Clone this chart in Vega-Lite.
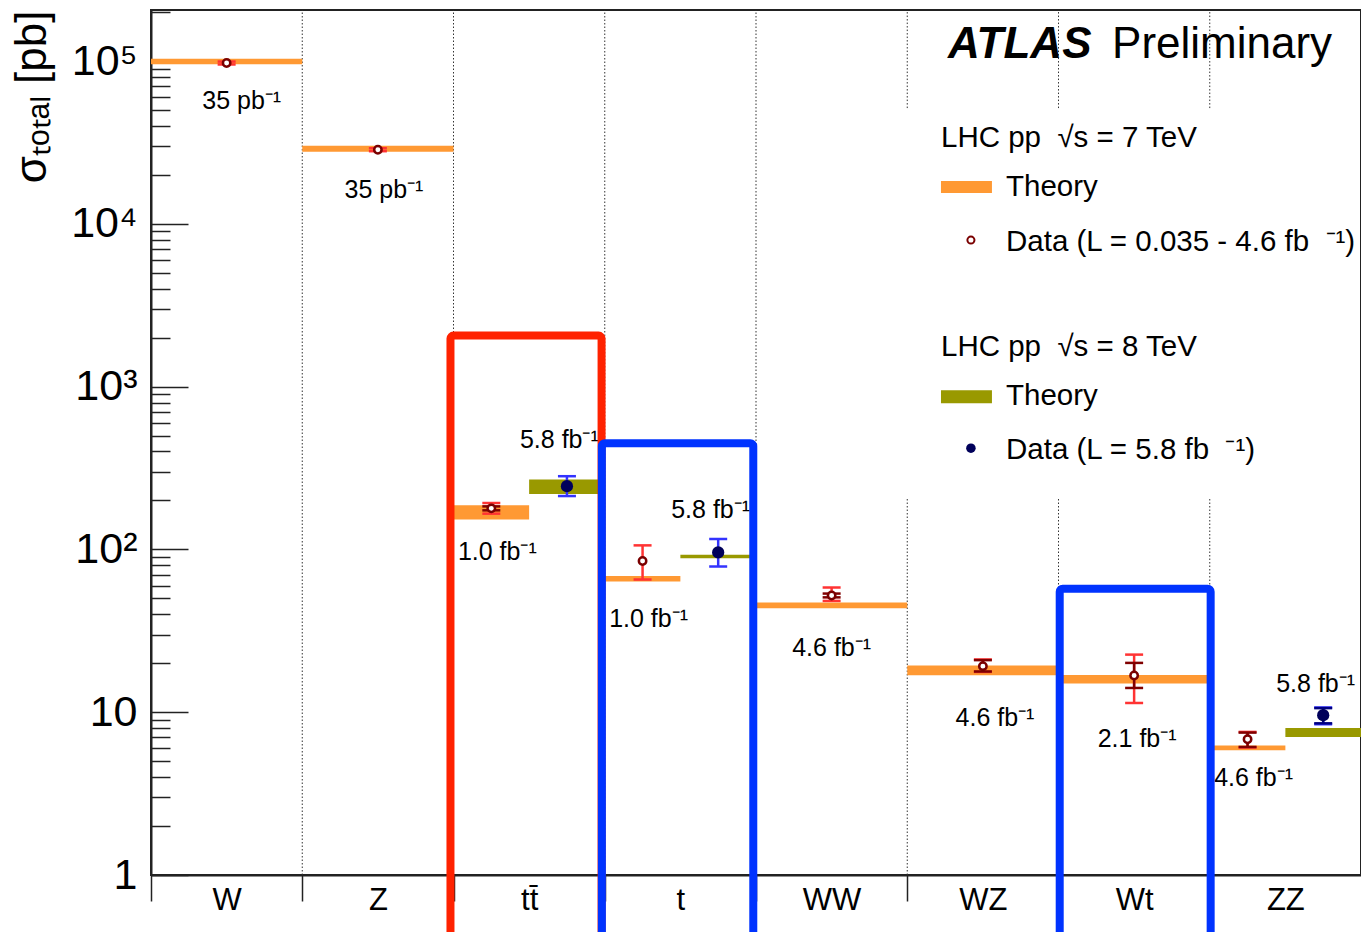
{
  "$schema": "https://vega.github.io/schema/vega-lite/v6.json",
  "width": 1210,
  "height": 865,
  "autosize": {"type": "none"},
  "padding": {"left": 151, "top": 10, "right": 0, "bottom": 57},
  "background": "white",
  "config": {
    "view": {"stroke": "#222", "strokeWidth": 2},
    "font": "Liberation Sans",
    "axis": {"domainColor": "#222", "tickColor": "#222", "labelColor": "#000", "titleColor": "#000", "labelFont": "Liberation Sans", "titleFont": "Liberation Sans"}
  },
  "datasets": {
    "grid": [
      {"b": 1, "ya": 1, "yb": 206400},
      {"b": 2, "ya": 1, "yb": 206400},
      {"b": 3, "ya": 1, "yb": 206400},
      {"b": 4, "ya": 1, "yb": 206400},
      {"b": 5, "ya": 51540, "yb": 206400},
      {"b": 5, "ya": 1, "yb": 209.6},
      {"b": 6, "ya": 51540, "yb": 206400},
      {"b": 6, "ya": 1, "yb": 209.6},
      {"b": 7, "ya": 51540, "yb": 206400},
      {"b": 7, "ya": 1, "yb": 209.6}
    ],
    "theory": [
      {"proc": "W", "e": "7", "x0": 0, "x1": 1, "lo": 95700, "hi": 103600},
      {"proc": "Z", "e": "7", "x0": 1, "x1": 2, "lo": 27800, "hi": 30240},
      {"proc": "ttbar", "e": "7", "x0": 2, "x1": 2.5, "lo": 153, "hi": 187},
      {"proc": "ttbar", "e": "8", "x0": 2.5, "x1": 3, "lo": 219, "hi": 269},
      {"proc": "t", "e": "7", "x0": 3, "x1": 3.5, "lo": 63.6, "hi": 68.8},
      {"proc": "t", "e": "8", "x0": 3.5, "x1": 4, "lo": 88.4, "hi": 92.7},
      {"proc": "WW", "e": "7", "x0": 4, "x1": 5, "lo": 43.6, "hi": 47.2},
      {"proc": "WZ", "e": "7", "x0": 5, "x1": 6, "lo": 16.9, "hi": 19.4},
      {"proc": "Wt", "e": "7", "x0": 6, "x1": 7, "lo": 15.0, "hi": 16.95},
      {"proc": "ZZ", "e": "7", "x0": 7, "x1": 7.5, "lo": 5.84, "hi": 6.24},
      {"proc": "ZZ", "e": "8", "x0": 7.5, "x1": 8, "lo": 7.05, "hi": 8.01}
    ],
    "meas": [
      {"proc": "W", "e": "7", "x": 0.5, "v": 97500, "lo": 95500, "hi": 99500},
      {"proc": "Z", "e": "7", "x": 1.5, "v": 28600, "lo": 28000, "hi": 29200},
      {"proc": "ttbar", "e": "7", "x": 2.25, "v": 179, "lo": 166, "hi": 193, "slo": 174, "shi": 184},
      {"proc": "ttbar", "e": "8", "x": 2.75, "v": 245, "lo": 213, "hi": 282},
      {"proc": "t", "e": "7", "x": 3.25, "v": 85, "lo": 65.4, "hi": 106},
      {"proc": "t", "e": "8", "x": 3.75, "v": 95.9, "lo": 78.6, "hi": 116},
      {"proc": "WW", "e": "7", "x": 4.5, "v": 52.2, "lo": 48.3, "hi": 58.4, "slo": 50.8, "shi": 53.6},
      {"proc": "WZ", "e": "7", "x": 5.5, "v": 19.2, "lo": 17.7, "hi": 21.1, "slo": 17.8, "shi": 20.9},
      {"proc": "Wt", "e": "7", "x": 6.5, "v": 16.8, "lo": 11.4, "hi": 22.6, "slo": 14.1, "shi": 20.1},
      {"proc": "ZZ", "e": "7", "x": 7.25, "v": 6.82, "lo": 6.07, "hi": 7.57, "slo": 6.12, "shi": 7.5},
      {"proc": "ZZ", "e": "8", "x": 7.75, "v": 9.59, "lo": 8.44, "hi": 10.7, "slo": 8.55, "shi": 10.6}
    ],
    "lumi": [
      {"x": 0.6, "y": 56930, "t": "35 pb⁻¹"},
      {"x": 1.54, "y": 16150, "t": "35 pb⁻¹"},
      {"x": 2.29, "y": 96.3, "t": "1.0 fb⁻¹"},
      {"x": 2.70, "y": 469.7, "t": "5.8 fb⁻¹"},
      {"x": 3.29, "y": 37.3, "t": "1.0 fb⁻¹"},
      {"x": 3.70, "y": 174.4, "t": "5.8 fb⁻¹"},
      {"x": 4.50, "y": 24.7, "t": "4.6 fb⁻¹"},
      {"x": 5.58, "y": 9.19, "t": "4.6 fb⁻¹"},
      {"x": 6.52, "y": 6.82, "t": "2.1 fb⁻¹"},
      {"x": 7.29, "y": 3.93, "t": "4.6 fb⁻¹"},
      {"x": 7.70, "y": 14.86, "t": "5.8 fb⁻¹"}
    ],
    "boxes": [
      {"box": "tt", "x0": 1.98, "x1": 2.979, "lo": 0.3, "hi": 2061},
      {"box": "t", "x0": 2.981, "x1": 3.982, "lo": 0.3, "hi": 450},
      {"box": "Wt", "x0": 6.008, "x1": 7.006, "lo": 0.3, "hi": 57.4}
    ],
    "legtext": [
      {"x": 5.223, "y": 33730, "t": "LHC pp\u00a0\u00a0√s = 7 TeV"},
      {"x": 5.653, "y": 16860, "t": "Theory"},
      {"x": 5.653, "y": 7742, "t": "Data (L = 0.035 - 4.6 fb\u00a0\u00a0⁻¹)"},
      {"x": 5.223, "y": 1751, "t": "LHC pp\u00a0\u00a0√s = 8 TeV"},
      {"x": 5.653, "y": 875, "t": "Theory"},
      {"x": 5.653, "y": 407.5, "t": "Data (L = 5.8 fb\u00a0\u00a0⁻¹)"}
    ],
    "legswatch": [
      {"e": "7", "x0": 5.223, "x1": 5.56, "lo": 15490, "hi": 18350},
      {"e": "8", "x0": 5.223, "x1": 5.56, "lo": 793, "hi": 953}
    ],
    "legpt": [
      {"e": "7", "x": 5.421, "y": 7962},
      {"e": "8", "x": 5.421, "y": 419.4}
    ]
  },
  "resolve": {"axis": {"x": "independent", "y": "independent"}},
  "layer": [
    {
      "data": {"name": "grid"},
      "mark": {"type": "rule", "strokeDash": [1.5, 2], "color": "#333", "strokeWidth": 1},
      "encoding": {
        "x": {"field": "b", "type": "quantitative", "scale": {"domain": [0, 8], "nice": false, "zero": false},
          "axis": {"orient": "bottom", "values": [0, 1, 2, 3, 4, 5, 6, 7], "labels": false, "tickSize": 26, "tickWidth": 1.5, "grid": false, "domain": true, "domainWidth": 2, "title": null}},
        "y": {"field": "ya", "type": "quantitative", "scale": {"type": "log", "domain": [1, 206400], "nice": false},
          "axis": {"orient": "left", "values": [1, 10, 100, 1000, 10000, 100000], "labels": false, "tickSize": -37, "tickWidth": 1.5, "grid": false, "domain": true, "domainWidth": 2, "title": null}},
        "y2": {"field": "yb"}
      }
    },
    {
      "data": {"name": "theory"},
      "mark": {"type": "rect"},
      "encoding": {
        "x": {"field": "x0", "type": "quantitative",
          "axis": {"orient": "bottom", "values": [0.5, 1.5, 2.5, 3.5, 4.5, 5.5, 6.5, 7.5], "labelExpr": "['W','Z','tt̄','t','WW','WZ','Wt','ZZ'][floor(datum.value)]", "ticks": false, "domain": false, "grid": false, "labelFontSize": 31, "labelPadding": 10, "labelFlush": false, "labelOverlap": false, "labelBound": false, "title": null}},
        "x2": {"field": "x1"},
        "y": {"field": "lo", "type": "quantitative",
          "axis": {"orient": "left", "values": [2,3,4,5,6,7,8,9,20,30,40,50,60,70,80,90,200,300,400,500,600,700,800,900,2000,3000,4000,5000,6000,7000,8000,9000,20000,30000,40000,50000,60000,70000,80000,90000,200000], "labels": false, "tickSize": -19, "tickWidth": 1.5, "domain": false, "grid": false, "title": null}},
        "y2": {"field": "hi"},
        "color": {"field": "e", "type": "nominal", "scale": {"domain": ["7", "8"], "range": ["#ff9933", "#999900"]}, "legend": null}
      }
    },
    {
      "data": {"name": "meas"},
      "mark": {"type": "rule", "strokeWidth": 2.5, "opacity": 1},
      "encoding": {
        "x": {"field": "x", "type": "quantitative", "axis": null},
        "y": {"field": "lo", "type": "quantitative",
          "axis": {"orient": "left", "values": [1, 10, 100, 1000, 10000, 100000], "labelExpr": "datum.value == 1 ? '1' : datum.value == 10 ? '10' : datum.value == 100 ? '10²' : datum.value == 1000 ? '10³' : datum.value == 10000 ? '10⁴' : '10⁵'", "ticks": false, "tickSize": 0, "domain": false, "grid": false, "labelFontSize": 43, "labelPadding": 14, "labelOverlap": false, "labelFlush": false, "labelBound": false, "title": "σₜₒₜₐₗ [pb]", "titleFontSize": 44, "titleFontWeight": "normal", "titleAnchor": "end", "titlePadding": 16}},
        "y2": {"field": "hi"},
        "color": {"condition": {"test": "datum.e == '8'", "value": "#3333ff"}, "value": "#ff3333"}
      }
    },
    {
      "data": {"name": "meas"},
      "transform": [{"fold": ["lo", "hi"], "as": ["k", "cap"]}],
      "mark": {"type": "tick", "orient": "horizontal", "size": 18, "thickness": 2.5, "opacity": 1},
      "encoding": {
        "x": {"field": "x", "type": "quantitative", "axis": null},
        "y": {"field": "cap", "type": "quantitative", "axis": null},
        "color": {"condition": {"test": "datum.e == '8'", "value": "#3333ff"}, "value": "#ff3333"}
      }
    },
    {
      "data": {"name": "meas"},
      "mark": {"type": "rule", "strokeWidth": 2.5, "opacity": 1},
      "encoding": {
        "x": {"field": "x", "type": "quantitative", "axis": null},
        "y": {"field": "slo", "type": "quantitative", "axis": null},
        "y2": {"field": "shi"},
        "color": {"condition": {"test": "datum.e == '8'", "value": "#000080"}, "value": "#800000"}
      }
    },
    {
      "data": {"name": "meas"},
      "transform": [{"filter": "isValid(datum.slo)"}, {"fold": ["slo", "shi"], "as": ["k", "cap"]}],
      "mark": {"type": "tick", "orient": "horizontal", "size": 18, "thickness": 2.5, "opacity": 1},
      "encoding": {
        "x": {"field": "x", "type": "quantitative", "axis": null},
        "y": {"field": "cap", "type": "quantitative", "axis": null},
        "color": {"condition": {"test": "datum.e == '8'", "value": "#000080"}, "value": "#800000"}
      }
    },
    {
      "data": {"name": "meas"},
      "transform": [{"filter": "datum.e == '7'"}],
      "mark": {"type": "point", "shape": "circle", "filled": false, "fill": "white", "stroke": "#7a0000", "strokeWidth": 2.5, "size": 55, "opacity": 1},
      "encoding": {
        "x": {"field": "x", "type": "quantitative", "axis": null},
        "y": {"field": "v", "type": "quantitative", "axis": null}
      }
    },
    {
      "data": {"name": "meas"},
      "transform": [{"filter": "datum.e == '8'"}],
      "mark": {"type": "point", "shape": "circle", "filled": true, "color": "#00005a", "size": 150, "opacity": 1},
      "encoding": {
        "x": {"field": "x", "type": "quantitative", "axis": null},
        "y": {"field": "v", "type": "quantitative", "axis": null}
      }
    },
    {
      "data": {"name": "lumi"},
      "mark": {"type": "text", "fontSize": 25, "align": "center", "baseline": "middle", "color": "#000", "font": "Liberation Sans"},
      "encoding": {
        "x": {"field": "x", "type": "quantitative", "axis": null},
        "y": {"field": "y", "type": "quantitative", "axis": null},
        "text": {"field": "t"}
      }
    },
    {
      "data": {"name": "legswatch"},
      "mark": {"type": "rect"},
      "encoding": {
        "x": {"field": "x0", "type": "quantitative", "axis": null},
        "x2": {"field": "x1"},
        "y": {"field": "lo", "type": "quantitative", "axis": null},
        "y2": {"field": "hi"},
        "color": {"field": "e", "type": "nominal", "legend": null}
      }
    },
    {
      "data": {"name": "legpt"},
      "transform": [{"filter": "datum.e == '7'"}],
      "mark": {"type": "point", "shape": "circle", "filled": false, "fill": "white", "stroke": "#7a0000", "strokeWidth": 2, "size": 50, "opacity": 1},
      "encoding": {
        "x": {"field": "x", "type": "quantitative", "axis": null},
        "y": {"field": "y", "type": "quantitative", "axis": null}
      }
    },
    {
      "data": {"name": "legpt"},
      "transform": [{"filter": "datum.e == '8'"}],
      "mark": {"type": "point", "shape": "circle", "filled": true, "color": "#00005a", "size": 90, "opacity": 1},
      "encoding": {
        "x": {"field": "x", "type": "quantitative", "axis": null},
        "y": {"field": "y", "type": "quantitative", "axis": null}
      }
    },
    {
      "data": {"name": "legtext"},
      "mark": {"type": "text", "fontSize": 29.5, "align": "left", "baseline": "middle", "color": "#000", "font": "Liberation Sans"},
      "encoding": {
        "x": {"field": "x", "type": "quantitative", "axis": null},
        "y": {"field": "y", "type": "quantitative", "axis": null},
        "text": {"field": "t"}
      }
    },
    {
      "data": {"values": [{"x": 5.27, "y": 125800, "t": "ATLAS"}]},
      "mark": {"type": "text", "fontSize": 44, "fontWeight": "bold", "fontStyle": "italic", "align": "left", "baseline": "middle", "color": "#000", "font": "Liberation Sans"},
      "encoding": {
        "x": {"field": "x", "type": "quantitative", "axis": null},
        "y": {"field": "y", "type": "quantitative", "axis": null},
        "text": {"field": "t"}
      }
    },
    {
      "data": {"values": [{"x": 6.354, "y": 125800, "t": "Preliminary"}]},
      "mark": {"type": "text", "fontSize": 44, "align": "left", "baseline": "middle", "color": "#000", "font": "Liberation Sans"},
      "encoding": {
        "x": {"field": "x", "type": "quantitative", "axis": null},
        "y": {"field": "y", "type": "quantitative", "axis": null},
        "text": {"field": "t"}
      }
    },
    {
      "data": {"name": "boxes"},
      "mark": {"type": "rect", "filled": false, "fill": null, "strokeWidth": 8, "cornerRadius": 3, "clip": false, "opacity": 1},
      "encoding": {
        "x": {"field": "x0", "type": "quantitative", "axis": null},
        "x2": {"field": "x1"},
        "y": {"field": "lo", "type": "quantitative", "axis": null},
        "y2": {"field": "hi"},
        "stroke": {"condition": {"test": "datum.box == 'tt'", "value": "#ff2200"}, "value": "#0033ff"}
      }
    }
  ]
}
